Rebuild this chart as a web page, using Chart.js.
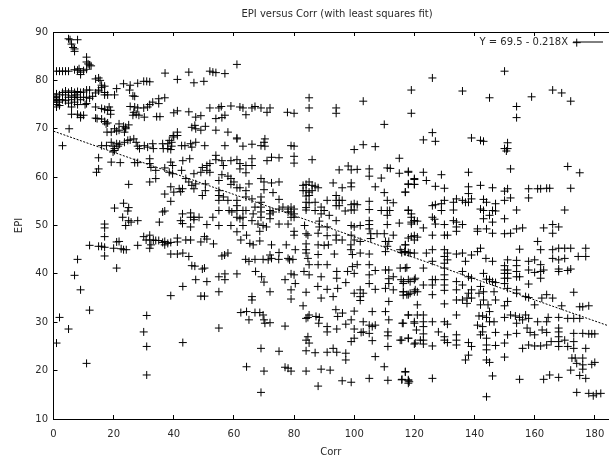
<!DOCTYPE html>
<html><head><meta charset="utf-8">
<style>html,body{margin:0;padding:0;background:#fff}#w{position:relative;width:613px;height:461px}</style>
<script src="https://cdn.jsdelivr.net/npm/chart.js@4"></script></head>
<body><div id="w"><canvas id="c" width="613" height="461"></canvas></div>
<script>
const titleText = "EPI versus Corr (with least squares fit)";
const xLabel = "Corr", yLabel = "EPI";
const fitLabel = "Y = 69.5 - 0.218X";
const fitPoints = [[0,69.5],[184.4,29.3]];
const groupTopLeft = [[5,88.6],[5.5,88.4],[8,88.4],[6,87.5],[7,86.5],[7,86],[6.5,86.8],[1,81.9],[2,81.9],[3,81.9],[4,81.9],[5,81.9],[7,82.2],[8,82.1],[8.5,82.4],[9,81.7],[9,81.2],[10,82],[11,82.3],[11,83.8],[11,84.8],[12,83.2],[12.5,83],[11.5,83.4],[14,80.3],[15,80.5],[15.5,80],[16,79],[17,78.8],[16,78.5],[17,77.5],[15,77.8],[14,77.4],[0,76],[0.5,76.5],[1,75],[1,75.8],[1,76.6],[1,77.2],[1.5,75.5],[2,76],[2,74.8],[2,77],[0,75.5],[1,74.5],[3,77.5],[3,76],[4,77.8],[4,77],[4,75.8],[5,77.5],[5,76.5],[5,75.3],[6,77.8],[6,76.8],[6,76],[6,74.5],[7,77.5],[7,76.5],[7,75.5],[7.5,77],[8,77.7],[8,76.5],[8,75],[9,77.5],[9,76],[10,77.6],[10,76.5],[10.5,75],[11,78],[11,76.5],[11,75.2],[12,78],[12,76.3],[13,76.7],[6,73],[8,73],[9,72.7],[9,72.3],[10,72.8],[14,74.5],[15,78],[16,74.2],[17,74],[18,73.8],[19,73.8],[18.5,74.5],[19,73],[14,72.2],[14.5,72.1],[16,72],[17,71.5],[17.5,71],[18,71.2],[17,77],[18,77],[21,78.3],[23.3,79.3],[25.5,79],[25.3,78],[28,79.4],[30,79.8],[31,79.8],[32,79.7],[26.4,76.8],[27,76.7],[20.3,77],[25.5,74.6],[27,74.5],[28,74.3],[30,74.3],[31.3,74.5],[33,75.5],[32,75],[35,76.2],[35,75.2],[37,76.4],[26.7,73.4],[26.4,72.8],[27.5,73],[28.4,72.8],[30.2,72.4],[34.3,72.5],[35.4,72.5],[21.8,71],[23.3,70.5],[25,70.8],[24,70],[17.8,69.3],[19.2,69.3],[20.3,70],[21,69.5],[21.8,69.7],[23.6,69.3],[24,70.3],[16,66.5],[17.6,66.5],[19.2,67.2],[19.8,66.4],[20.3,65.9],[21,66.9],[21.5,66.4],[22,66.8],[23.6,67.2],[24.7,67.6],[25.5,67.7],[26.7,67.9],[27.5,67.2],[28,66.4],[28.6,65.9],[30.2,66.5],[31.3,66.2],[33,66.9],[33.2,65.9],[36.3,66.9],[36.5,65.9],[38,66.9],[38,65.9],[39.3,67.2],[39.3,66.4],[39,65.7],[40,68.3],[41.2,69.3],[41.2,68.6],[39.8,68.6],[38.5,67.6],[19.2,63.1],[22.2,63],[20.3,65.5],[19.8,65.2],[15,64],[15,61.7],[14.3,61],[5.2,70],[3,66.5],[37.1,81.5],[41.2,80.2],[45,81.7],[46.7,79.5],[50,79.8],[40,73.3],[41.2,73.7],[45,73.5],[47.3,72.4],[49,72.7],[46,70.3],[47.3,70],[49,69.7],[50.5,70.5],[47,70.7],[42.6,66.5],[43.7,66.5],[45.6,66.9],[47.3,67.2],[46,66.2],[50.3,66.5],[27,63],[28,63],[32,63.8],[32,62.8],[32.4,62],[34,61.4],[34,59.7],[32,59],[25,58.5],[37,61.9],[38.5,61],[39,63.1],[39.6,62.4],[43,63.4],[45.3,63.8],[42.6,61.4],[46.7,60.7],[49,61],[49.5,62],[51,62.4],[51,61.4],[39.6,60.7],[44,59.7],[45,59],[47.3,58.6],[46,58.3],[50.5,58.6],[46.7,57.6],[49.5,56.2],[50.5,57.2],[39,58],[41.8,57.6],[42.9,57.6],[42.3,57],[40,56.9],[37,56.5],[39,55],[20.3,53.6],[23.3,54.6],[25,53.7],[24.7,53],[23,51.7],[25,51],[24,50],[25.8,50.7],[28,51],[35.2,50.7],[36.3,52.8],[37,53],[17,50.3],[17,49.5],[42.9,52.4],[45.6,52.6],[45.6,51.7],[46.7,51.7],[48.4,51.7],[46.7,51.2],[42.3,51],[42.9,50.4],[45.6,49.7],[51,50.2]];
const groupBottomLeft = [[12,45.9],[15,45.7],[16,45.7],[17,45.5],[17,47.7],[17,43.7],[20,45.3],[21,46.6],[21.8,46.7],[22.5,45.2],[23.3,45],[24.2,45],[21,41.2],[28,45.9],[30,47.7],[32,48],[30.8,47],[32,47],[32.4,46],[32,45.3],[33.2,47],[34,46.9],[35,46.9],[36.3,46.5],[37,46.7],[37,46],[38,46.3],[39,46.5],[41.2,47.4],[41.2,46.6],[44,47],[45.6,47],[49,46.6],[50.2,47.7],[51,47.2],[39,44.1],[41.2,44.1],[43,44.3],[45,43.6],[46,41.7],[47,41.6],[49.5,41],[50.2,41.2],[47.3,38.8],[51,38.4],[43,37.4],[39,35.5],[49,35.4],[50.2,35.4],[43,25.8],[31,31.4],[30,28],[31,25],[31,19.1],[2,31],[5,28.6],[1,25.7],[11,21.5],[12,32.5],[9,36.7],[7,39.7],[8,43]];
const groupBottomMiddle = [[53.2,46.2],[56,43.7],[56.9,43.9],[58,44.3],[55,39.4],[57,40],[57,38.8],[55,36.3],[55,28.8],[61,40],[61,48.7],[62.3,47],[64.2,48],[65.3,46.3],[66.4,46],[68.6,48.8],[68.6,46.8],[72.5,46],[77.4,46],[63.9,43],[65,42.6],[67,43],[69.7,43],[71.4,42.9],[72,43.9],[72.5,43.2],[75,44.4],[74.9,43],[78,43.2],[78.5,42.9],[79.6,43],[80.4,45],[84,45],[84,44.3],[84.6,43.2],[88,46],[88,44],[90,45.9],[91.4,46],[93.4,44.1],[98.9,46],[98.9,45],[99.4,44],[102,44.3],[105,44.1],[67.2,40.5],[69.2,39.4],[70,38.3],[72,36.3],[77,38.8],[79,40],[80,39.8],[80.4,38],[79,36.7],[84,36.2],[83.3,40.5],[85,41.9],[85,39.8],[88,41.9],[89,39.4],[91,41.9],[94.2,40.5],[94.2,39.1],[97.2,38.2],[87.9,37.4],[91,36.8],[94.5,37],[93,35.3],[89,35],[79,34.8],[66,35.3],[66,34.6],[97.8,40.5],[99.4,41.5],[100,40.1],[101,41.9],[105,41.9],[105,39.8],[107,40.7],[105,38],[107,36.8],[110.4,40.8],[111.5,40.8],[110.4,37],[113,39.4],[115.3,41.2],[117.5,41.3],[115.6,38.8],[116.4,38.4],[118.6,38.4],[120.3,39.1],[111.5,39],[111.5,38],[113,36.7],[116.4,36.3],[117.5,35.7],[118.6,36],[120.3,36.7],[100,36],[102,36.7],[103,36],[102,35.3],[102,34.5],[83,33.4],[62.3,32],[64.2,32.2],[67,32],[68.6,32],[69.7,31.5],[65,30.5],[70,30.5],[70.3,29.8],[72,29.9],[77,29.2],[84.6,31],[85,31.5],[87.3,31.2],[88.4,31],[88.2,29.8],[84,30.8],[93.9,32.6],[94.5,31.2],[96.1,31.9],[100,32.3],[106,32.2],[110.4,32.2],[111.5,34.3],[91,29.1],[91,28],[94.2,28.6],[97.2,29.6],[99,30.5],[100,28.6],[103,30.1],[102.3,27.9],[103,28],[105,29.4],[107,29.4],[106,29.1],[105,27.7],[106,26.2],[111.5,30.5],[111.2,28],[111.2,27.2],[118,31.5],[116,29.8],[120,29.8],[118,26.7],[115.3,26.3],[120.3,25.7],[100,26.7],[99,26],[84.6,27],[84,26.3],[85,25.7],[111.2,25],[69,24.6],[75,24],[84,24.1],[87,23.7],[91,23.8],[93,24.6],[94.2,23.8],[97.2,23.6],[97.2,22.2],[107,22.9],[64.2,20.8],[70,19.9],[77,20.7],[78,20.5],[79,19.9],[84,19.9],[89,20.3],[92,20.1],[96,17.9],[99,17.6],[105,18.4],[111.2,18],[110,20.8],[117,19.7],[115.9,18.2],[118,17.9],[118,17.4],[88,16.8],[69,15.5],[80,48],[84,48.3],[84.6,48],[88,48.4],[91,47.9],[94,48],[99,48],[96,47],[94,47],[84,46.2],[80,48.8],[105.5,48.3],[107.6,48.3],[110,48.3],[113,48],[105.5,47.3],[110.4,46.7],[111,45.7],[111.5,46.7],[119,47.7],[117,46],[117,44.6],[120,47],[118.6,44.3],[110.4,44.6],[115.3,45],[100,47],[102,46.7]];
const groupTopMiddle = [[61,83.3],[52,81.9],[53,81.7],[54,81.6],[57,81.4],[52,74.3],[55,74.3],[55.8,74.6],[59,74.7],[62,74.5],[63,74.3],[66,74.3],[67,74.6],[69,74.3],[72,74.3],[71,73.4],[64,72.9],[77.8,73.4],[80,73.2],[85,76.4],[85,74.3],[85,70.2],[94,74.3],[94,73.2],[103,75.7],[110,70.9],[119,78],[119,73.2],[54,72.1],[56,72.3],[57,72.8],[54,69.7],[58,69.3],[61,68.1],[61,67.9],[57,66.5],[63,66.4],[66,66.8],[69,66.5],[70.3,67.9],[70,67.2],[70.3,66.4],[79,66.5],[80,66.4],[100,65.7],[103,66.7],[107,66.3],[115,63.9],[54,64.5],[54,63.6],[52,62.8],[56,63.4],[56.5,62.4],[59,63.4],[61,63.6],[62,62.8],[62,61.7],[64,62.4],[66,63.8],[66,62.4],[64,60.9],[71,63.4],[72.5,64.1],[75,64],[80,64.3],[80,62.9],[86,63.6],[52,61],[95,61.5],[98,62.3],[99,61.5],[101,61.6],[105,61.7],[105,60.2],[109,59.8],[111,61.9],[112,61.8],[115,60.8],[118,61.2],[120,59.5],[118,58.5],[120,58.5],[117,56.9],[107,58],[110,56.8],[93,58.8],[96,57.8],[99,58.8],[99,58],[56,60.5],[58,60.2],[59,59.7],[60,59],[55,59.3],[59,58.5],[65,58.6],[69,59.7],[70,59],[72.5,58.8],[75,59],[61,57.8],[62,57.8],[64,57.2],[70,57.4],[73,56.8],[75,55.4],[83,58.3],[84,58.5],[85,59],[86,58.3],[87,58.1],[88,57.8],[83,57.2],[84,57.2],[85,56.9],[86,57.2],[84,56.1],[85,56.2],[84,54.8],[85,54.7],[87,54.8],[84,53.7],[84,53.2],[87,53.1],[89,53.8],[90,53.1],[91,55.2],[94,56.2],[94,55.2],[95,55.2],[96,55.2],[94,54.1],[95,54.1],[97,53],[99,54.3],[100,54.5],[101,54.3],[99,53.2],[100,53.2],[105,55],[105,53.3],[109,53.1],[111,55.2],[113,54.7],[111,53.1],[111.8,53.1],[111,52.1],[118,53.1],[119,52.4],[120,51],[89,52.4],[91.7,52.1],[94,51],[88.4,50.9],[99,50],[102,50],[105,51],[105,50.2],[105,49.3],[111,50.2],[115,50.5],[119,50.7],[100,49.7],[55,57.2],[55,56.2],[55,55.2],[56.5,55.9],[58,55.2],[61,55.2],[61,54.1],[64,55.9],[66,55.5],[69,55.9],[69,54.8],[69,53.8],[55,53.1],[58.4,53.1],[59.3,52.8],[61,53.1],[63,53.1],[64,53.1],[67,53.8],[69,52.8],[72,53.1],[73,52.8],[75,53.4],[76.3,53.8],[78,53.4],[79,53.8],[80,53.4],[79,52.8],[80,52.4],[79,51.7],[80,51.7],[78,52.8],[72,52.4],[72,51.4],[69,51.7],[66.4,52.4],[63,51.7],[61,51.7],[62,51.4],[53,51.7],[55,50],[59,50],[63,50],[66,51],[68,50.3],[69.7,50],[70.8,49.7],[75,50.3],[78,50.3],[83.5,50],[88.4,49.7],[91,49.7]];
const groupTopRight = [[174,87.8],[150,81.9],[126,80.5],[136,77.8],[145,76.4],[154,74.6],[159,76.6],[166,78],[169,77.4],[172,75.7],[154,72.3],[126,69.2],[123,67.7],[127,67.4],[139,68.1],[142,67.6],[143,67.4],[151,67.1],[150,65.9],[151,65.9],[150.6,65.4],[152,61.7],[171,62.2],[175,60.9],[118,61],[123,61],[129,60.5],[138,61],[120,59.7],[124,59.3],[118,58.6],[120,58.5],[117,56.9],[127,58.1],[130,57.7],[138,58],[142,58.3],[146,57.8],[151,57.6],[150,57.1],[138,56.6],[152,55.7],[150,55.2],[158,57.6],[161,57.6],[162,57.6],[164,57.7],[165,57.7],[172,57.7],[158,55.7],[170,53.2],[154,53.2],[134,55.5],[136,55.2],[137,54.8],[138,54.8],[139,55.5],[133,54.8],[130,55.2],[129,54.5],[127,54.3],[126,54.1],[133,53.2],[129,53.1],[126,51.7],[126.7,51.3],[143,55.4],[144,54.8],[147,54.5],[142,53.4],[143,53.1],[146,53.1],[147,53],[145,52.1],[143,51.4],[146,50.7],[150,51.4],[118,53.2],[119,51.7],[120,51],[121,50.9],[119,50.3],[123,49.5],[127,50.3],[130,50.2],[133,51],[134,50.7],[136,50.2],[134,49.7],[141,49.3],[144,49.3],[154,49.3],[156,49.5],[163,49.5],[166,50.2],[168,49.7]];
const groupBottomRight = [[120,47.9],[121,47.6],[118,47.4],[126,48],[130,48],[131,48],[134,48.8],[141,48.8],[146,48.4],[150,48.3],[152,48.4],[166,48.4],[161,46.7],[162,45],[117,46],[116.8,44.6],[115.8,44.4],[118,44.4],[120,44.3],[124,44.3],[126,45],[130,45],[131,44.3],[130,43.6],[126,42.6],[130,42.2],[131,42.9],[130,41.2],[134,44.1],[136,44.3],[139,43.9],[141,44.6],[142,45.3],[155,45.1],[143.8,43.2],[146,42.6],[137,42.6],[136,40.5],[166,45],[168,45.3],[170,45.3],[172,45.3],[177,45.3],[174.5,43.6],[177,43.6],[166,43.2],[170,43.2],[168,42.9],[158,42.6],[160,42.9],[162,41.9],[163,40.8],[168,41],[168,40.5],[171,40.7],[172,41],[162,40.5],[160,40.3],[158,40.8],[162,39.1],[158,37.9],[151,42.9],[154,42.8],[150,41.7],[154,41.7],[150,40.8],[151,40.8],[150,40.1],[151,40.1],[154,40.5],[154,39.4],[155,39.4],[150,39.1],[151,39.1],[150,38],[151,37],[154,36.7],[154,36],[157,35.3],[158,35.1],[162.4,35],[164,35.7],[166,35],[173,36.2],[169,33.4],[175,33.2],[176,33.2],[178,33.4],[160,33.6],[150,33.4],[151,34.3],[147,34.6],[143,40.1],[144,38.9],[145,38.8],[146,38.4],[147,38.2],[142,37.4],[143,36.3],[146.5,36.3],[138,39.4],[139,39.1],[134,38.4],[136,37.7],[130,39.8],[130,38.8],[130,37.7],[130,36.6],[126,38.8],[126,37.7],[126,35.7],[127,38.8],[123,37.7],[120,38.8],[120,36.3],[121,36.3],[121,33.6],[118,38.8],[116.3,38],[116.3,36.3],[116.3,35.6],[118,35.7],[130,33.8],[134,34.6],[136,34.6],[137.5,35],[139,35],[137.5,33.9],[138,36],[141.5,36],[143,34.6],[142,33.6],[145,32.2],[144.5,33.6],[134,36.7],[139,36.7],[123,41.2],[117,41.2],[118,31.5],[120,30.1],[121,31.5],[123,31.5],[123,30.1],[123,29.1],[126,30.1],[130,30.1],[131,29.6],[134,31.5],[116.3,29.8],[120.7,28.4],[123,27.6],[128,28],[141.5,31.3],[142.7,31.3],[144,31],[145,30.1],[146.5,30.1],[141,29.4],[142.7,29.1],[142.7,28],[142,27.4],[144,26.7],[147,27.9],[151,27.4],[150,31],[152,31.5],[153.6,31.3],[155,31],[157,31.5],[156,30.5],[158,30.8],[161,30.1],[164,30.1],[164.5,31],[168,31],[171,30.8],[173,30.8],[175,30.8],[154,29.8],[157.5,28.8],[158.5,27.9],[162.5,28.4],[164,27.9],[168,28.8],[168,28],[168,27],[170,26.3],[173,27.7],[176,27.7],[178,27.6],[179,27.6],[180,27.6],[154,27.7],[160,27.4],[173,26],[118,26.7],[115.8,26.3],[123,26.3],[122,26.3],[120,25.5],[123,25.5],[126,25.1],[130,27],[130,26.3],[131,25.8],[134,27.4],[134,26.3],[134,25.3],[138,25.8],[139,25],[144,25.3],[147,25.2],[150,25.7],[156,24.6],[158,25.3],[160,25.1],[162,25.1],[164,25.3],[165.5,26],[168,26],[168,25],[171,25],[173,24.6],[177,24.6],[144,24.3],[138,23.2],[137,22.2],[144,22.2],[145,21.7],[150,22.8],[172.4,22.6],[173.5,22.6],[176,22.6],[174,21.5],[176,21.2],[179,21.3],[180,21.7],[172,20.1],[176,20.3],[117,19.8],[115.8,18.1],[118,18.1],[118.3,17.7],[126,18.4],[146,18.9],[155,18.2],[163,18.2],[165,19.1],[168,18.6],[175,19],[177,18.4],[174,15.5],[178,15.3],[179.5,14.8],[180.5,15.2],[182,15.3],[144,14.6]];
const xTicks = [0,20,40,60,80,100,120,140,160,180];
const yTicks = [10,20,30,40,50,60,70,80,90];

const toXY = a => a.map(p => ({x:p[0], y:p[1]}));
const allPoints = [].concat(groupTopLeft, groupBottomLeft, groupBottomMiddle, groupTopMiddle, groupTopRight, groupBottomRight);
const F = {family:'"DejaVu Sans"', size:10, weight:'normal'};
const ink = '#000', textInk = '#2a2a2a';
const setWidth = w => s => { s.width = w; s.paddingTop = 0; s.paddingBottom = 0; };
const setHeight = h => s => { s.height = h; s.paddingLeft = 0; s.paddingRight = 0; };
const linearAxis = (pos, min, max, ticks, extra) => Object.assign({
  type:'linear', position:pos, min, max,
  border:{display:true,color:ink,width:1},
  grid:{drawOnChartArea:false, drawTicks:true, tickLength:-4, color:ink, tickColor:ink, tickWidth:1},
  afterBuildTicks: s => { s.ticks = ticks.map(v => ({value:v})); }
}, extra);
const placeBlocks = {id:'placeBlocks', afterLayout(chart){
  const l = chart.legend;
  l.left = chart.chartArea.right - l.width - 3;
  l.right = l.left + l.width;
  l.top = chart.chartArea.top + 3;
  const t = chart.titleBlock;
  t.left = 61; t.right = 613; t.width = 552;
}};
new Chart(document.getElementById('c'), {
  type:'scatter',
  plugins:[placeBlocks],
  data:{datasets:[
    {label:'EPI', data:toXY(allPoints), pointStyle:'cross', pointRadius:4, pointBorderWidth:1, pointBorderColor:'#000', pointBackgroundColor:'#000', showLine:false, xAxisID:'x', yAxisID:'y'},
    {label:fitLabel, data:toXY(fitPoints), type:'line', showLine:true, pointRadius:0, borderColor:'#000', borderWidth:1, borderDash:[2,1.5], backgroundColor:'#000', fill:false, xAxisID:'x', yAxisID:'y'}
  ]},
  options:{
    responsive:false, animation:false,
    layout:{padding:0},
    plugins:{
      tooltip:{enabled:false},
      title:{display:true, text:titleText, color:textInk, font:F, padding:{top:8,bottom:12}},
      legend:{display:true, position:'chartArea', align:'start', rtl:true, textDirection:'ltr', padding:2,
        labels:{color:textInk, font:F, usePointStyle:true, pointStyle:'line', pointStyleWidth:30, boxHeight:8, padding:2,
          filter:i => i.datasetIndex === 1}}
    },
    scales:{
      x:linearAxis('bottom',0,184.4,xTicks,{title:{display:true,text:xLabel,color:textInk,font:F,padding:{top:0,bottom:3}},ticks:{color:textInk,font:F,padding:13,maxRotation:0,autoSkip:false,callback:v=>String(v)},afterFit:setHeight(42)}),
      y:linearAxis('left',10,90,yTicks,{title:{display:true,text:yLabel,color:textInk,font:F,padding:{top:13,bottom:0}},ticks:{color:textInk,font:F,padding:9.5,autoSkip:false,callback:v=>String(v)},afterFit:setWidth(53.5)}),
      x2:linearAxis('top',0,184.4,xTicks,{ticks:{display:false},afterFit:setHeight(0)})
    }
  }
});
</script></body></html>
